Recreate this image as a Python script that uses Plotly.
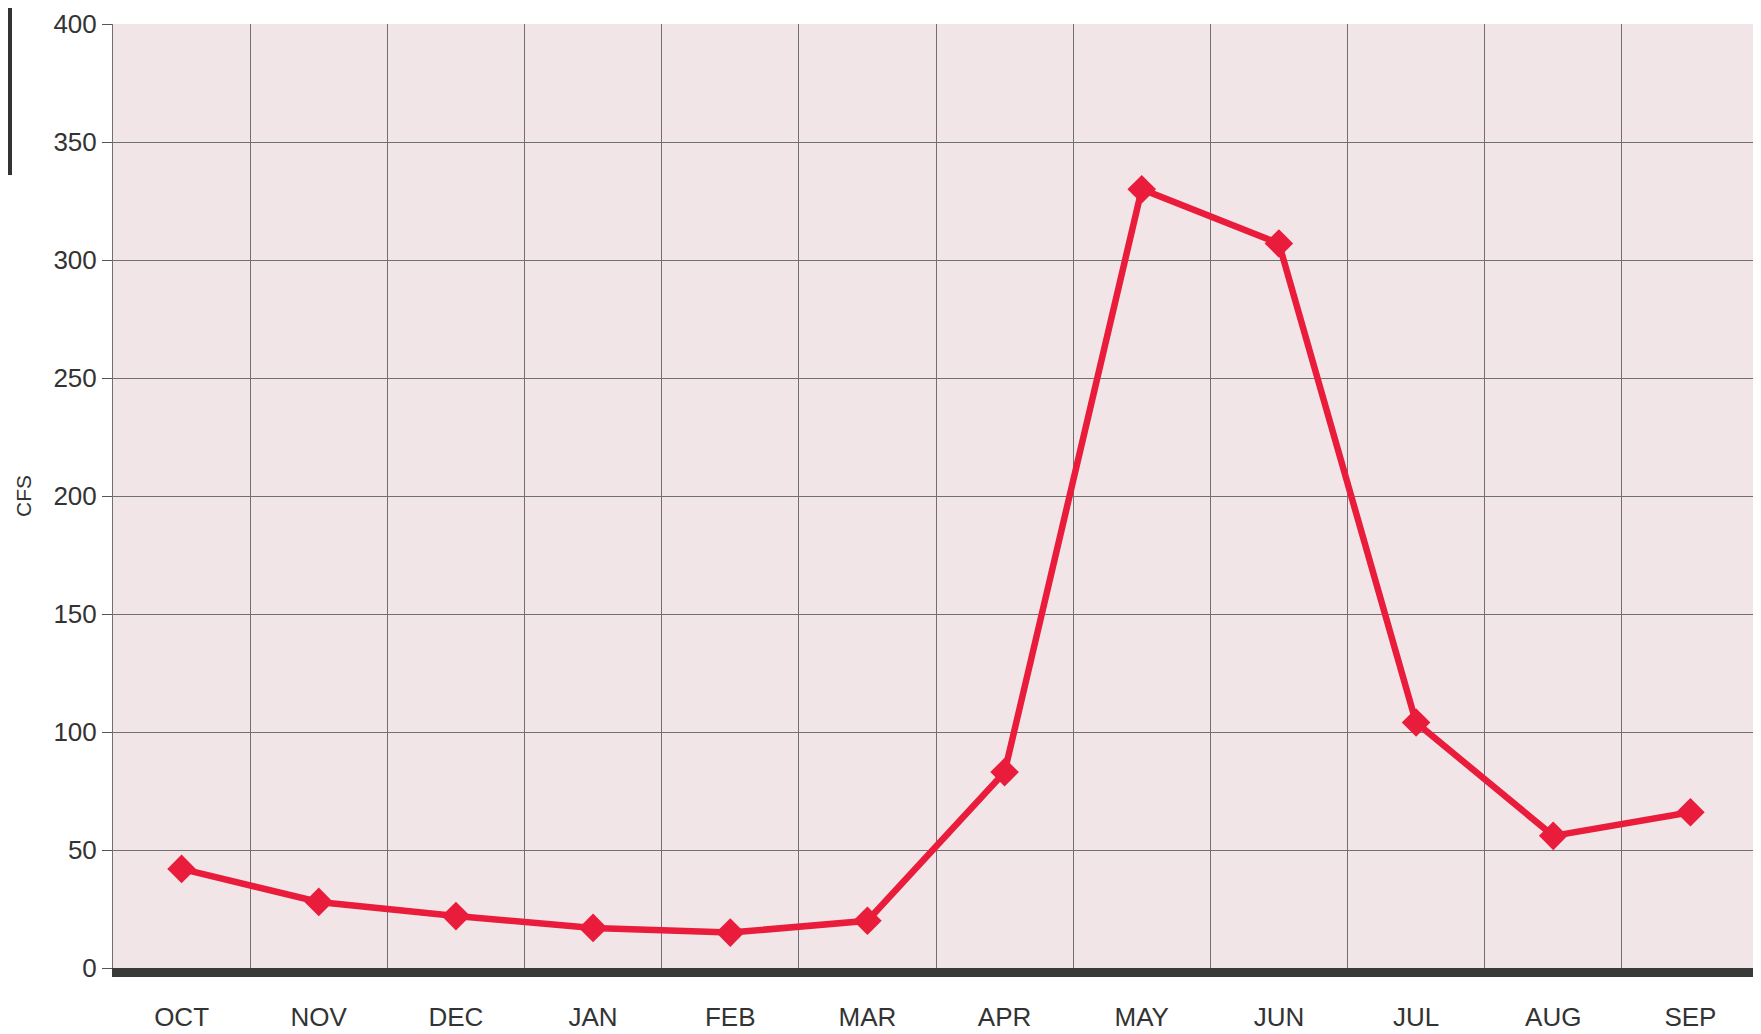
import plotly.graph_objects as go

months = ["OCT", "NOV", "DEC", "JAN", "FEB", "MAR", "APR", "MAY", "JUN", "JUL", "AUG", "SEP"]
cfs = [42, 28, 22, 17, 15, 20, 83, 330, 307, 104, 56, 66]
y_ticks = [0, 50, 100, 150, 200, 250, 300, 350, 400]

x_pos = list(range(len(months)))

L, R, T, B = 105, 10, 16, 74
W, H = 1761, 1034
pw = W - L - R

fig = go.Figure()
fig.add_trace(go.Scatter(
    x=x_pos, y=cfs, mode="lines+markers",
    line=dict(color="#ea1c3c", width=6.5),
    marker=dict(symbol="diamond", size=22, color="#ea1c3c"),
    showlegend=False,
))

fig.update_layout(
    width=W, height=H,
    margin=dict(l=L, r=R, t=T, b=B, autoexpand=False),
    paper_bgcolor="white",
    plot_bgcolor="#f1e5e7",
    font=dict(family="Liberation Sans, Arial, sans-serif", color="#333333"),
    xaxis=dict(
        range=[-0.5, len(months) - 0.5],
        tickvals=x_pos, ticktext=months,
        showgrid=False, zeroline=False, automargin=False,
        ticks="", ticklabelstandoff=18,
        tickfont=dict(size=26, color="#333333"),
        showline=True, linecolor="#3a3a3a", linewidth=9,
        minor=dict(tick0=-0.5, dtick=1, showgrid=True, gridcolor="#707070", gridwidth=1),
    ),
    yaxis=dict(
        range=[0, 400], tickvals=y_ticks,
        showgrid=True, gridcolor="#707070", gridwidth=1,
        zeroline=False, automargin=False,
        ticks="outside", ticklen=10, tickcolor="#555555",
        tickfont=dict(size=26, color="#333333"),
        showline=True, linecolor="#707070", linewidth=1,
        title=dict(text="CFS", font=dict(size=21, color="#333333"), standoff=16),
    ),
)

fig.add_shape(type="line", xref="paper", yref="paper", x0=1, x1=1, y0=0, y1=1,
              line=dict(color="#707070", width=1))
fig.add_shape(type="rect", xref="paper", yref="paper", x0=-L/pw, x1=-(L-4)/pw, y0=0.84, y1=1.02,
              fillcolor="#333333", line=dict(width=0))

fig.write_html("out.html")
